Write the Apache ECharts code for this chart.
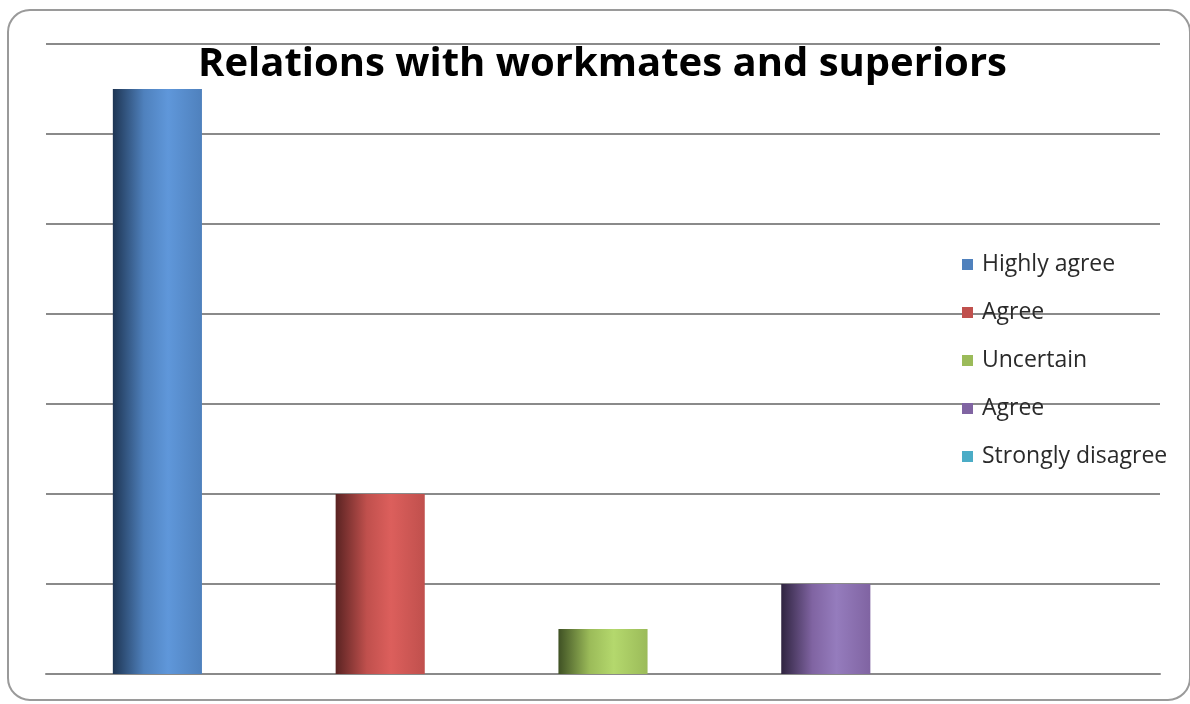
<!DOCTYPE html>
<html>
<head>
<meta charset="utf-8">
<script src="https://cdn.jsdelivr.net/npm/echarts@6/dist/echarts.min.js"></script>
<style>html,body{margin:0;padding:0;background:#fff}#c{width:1190px;height:704px}</style>
</head>
<body>
<div id="c"></div>
<script>
const title = 'Relations with workmates and superiors';
const categories = ['Highly agree', 'Agree', 'Uncertain', 'Agree ', 'Strongly disagree'];
const values = [6.5, 2, 0.5, 1, 0];
const solidColors = ['#4f81bd', '#c0504d', '#9bbb59', '#8064a2', '#4bacc6'];
const darkColors = ['#1e3553', '#5a2322', '#3f5124', '#2f2440', '#1d4f5d'];
const lightColors = ['#5f97da', '#dc5f5c', '#b4d86d', '#957cbd', '#5ec7e4'];

function grad(i) {
  return new echarts.graphic.LinearGradient(0, 0, 1, 0, [
    {offset: 0, color: darkColors[i]},
    {offset: 0.35, color: solidColors[i]},
    {offset: 0.62, color: lightColors[i]},
    {offset: 1, color: solidColors[i]}
  ]);
}

const chart = echarts.init(document.getElementById('c'));
const series = categories.map((name, i) => ({
  name: name,
  type: 'bar',
  barWidth: '40%',
  barGap: '-100%',
  z: 3,
  itemStyle: {color: grad(i)},
  data: values.map((v, j) => j === i ? v : '-')
}));

chart.setOption({
  animation: false,
  backgroundColor: '#fff',
  graphic: [{
    type: 'rect', z: -1, silent: true,
    shape: {x: 8, y: 10, width: 1182, height: 690, r: 22},
    style: {fill: '#fff', stroke: '#9a9a9a', lineWidth: 2}
  }],
  title: {
    text: title, left: 193, top: 40,
    textStyle: {fontFamily: 'Open Sans', fontWeight: 'bold', fontSize: 40, color: '#000'}
  },
  legend: {
    orient: 'vertical', left: 957, top: 248, z: 5,
    icon: 'rect', itemWidth: 11, itemHeight: 11, itemGap: 25,
    textStyle: {fontFamily: 'Open Sans', fontSize: 23, color: '#2a2a2a', padding: [0, 0, 0, 4]},
    data: categories.map((n, i) => ({name: n, itemStyle: {color: solidColors[i]}}))
  },
  grid: {left: 46, right: 30, top: 44, bottom: 30},
  xAxis: {
    type: 'category', data: categories,
    axisLine: {show: true, lineStyle: {color: '#8a8a8a', width: 2}},
    axisTick: {show: false}, axisLabel: {show: false}
  },
  yAxis: {
    type: 'value', min: 0, max: 7, interval: 1,
    axisLine: {show: false}, axisTick: {show: false}, axisLabel: {show: false},
    splitLine: {lineStyle: {color: '#8a8a8a', width: 2}}
  },
  series: series
});
</script>
</body>
</html>
